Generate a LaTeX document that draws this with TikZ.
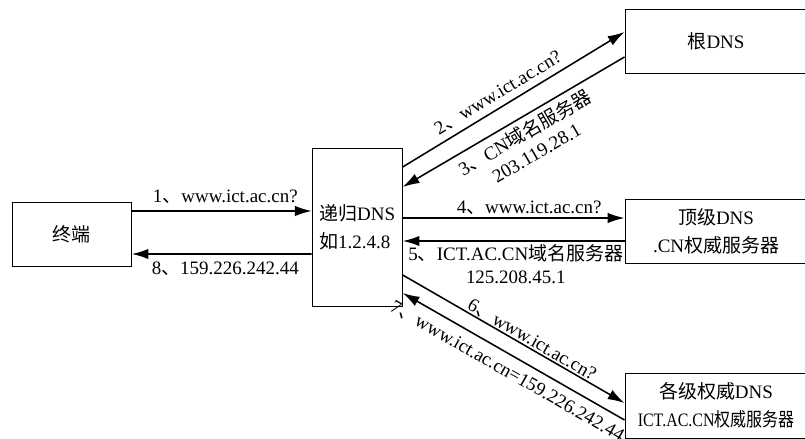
\documentclass[tikz,border=0pt]{standalone}
\usepackage{fontspec}
\usepackage{graphicx}
\setmainfont{Liberation Serif}
\newfontfamily\cjk{Noto Sans CJK SC}
\newcommand{\zh}[1]{{\cjk #1}}
\usetikzlibrary{arrows.meta}

\begin{document}
\begin{tikzpicture}[
    box/.style={
      rectangle, draw, align=center, line width=0.7pt,
      inner sep=2pt, font=\fontsize{13.5}{20}\selectfont
    },
    srv/.style={box, minimum width=4.55cm, minimum height=1.6cm},
    >={Latex[length=0.42cm,width=0.26cm]}, % arrowheads
    arrow/.style={->, line width=1.1pt},
    lbl/.style={font=\fontsize{13.5}{16.5}\selectfont, align=center, inner sep=2pt},
  ]
  \useasboundingbox (0,0) rectangle (20.125,-10.975);

  % Client and resolver
  \node[box, minimum width=2.98cm, minimum height=1.62cm] (term) at (1.79,-5.86) {\zh{终端}};
  \node[box, minimum width=2.25cm, minimum height=3.95cm, align=left] (rec) at (8.93,-5.68)
    {\zh{递归}DNS\\\zh{如}1.2.4.8};

  % Servers on the right (running off the page edge)
  \node[srv] (root) at (17.9,-1.03) {\zh{根}DNS};
  \node[srv] (top)  at (17.9,-5.78) {\zh{顶级}DNS\\.CN\zh{权威服务器}};
  \node[srv, minimum height=1.63cm] (auth) at (17.9,-10.14)
    {\zh{各级权威}DNS\\\scalebox{0.84}[1]{ICT.AC.CN\zh{权威服务器}}};

  % Client <-> resolver
  \draw[arrow] ([yshift=0.585cm]term.east) -- node[lbl, above=3pt, pos=0.52] {1\zh{、}www.ict.ac.cn?}
    ([yshift=0.405cm]rec.west);
  \draw[arrow] ([yshift=-0.67cm]rec.west) -- node[lbl, below=3pt, pos=0.48] {8\zh{、}159.226.242.44}
    ([yshift=-0.49cm]term.east);

  % Resolver <-> root
  \draw[arrow] ([yshift=1.505cm]rec.east) -- ([yshift=0.23cm]root.west);
  \draw[arrow] ([yshift=-0.395cm]root.west) -- ([yshift=1.005cm]rec.east);

  % Resolver <-> top level
  \draw[arrow] ([yshift=0.23cm]rec.east) -- node[lbl, above, pos=0.57] {4\zh{、}www.ict.ac.cn?}
    ([yshift=0.33cm]top.west);
  \draw[arrow] ([yshift=-0.245cm]top.west) -- node[lbl, below, pos=0.49]
    {5\zh{、}ICT.AC.CN\zh{域名服务器}\\125.208.45.1} ([yshift=-0.345cm]rec.east);

  % Resolver <-> authoritative
  \draw[arrow] ([yshift=-1.195cm]rec.east) -- ([yshift=0.065cm]auth.west);
  \draw[arrow] ([yshift=-0.36cm]auth.west) -- ([yshift=-1.645cm]rec.east);

  % Slanted labels along the diagonal arrows
  \node[lbl, rotate=31.2]  (q2) at (12.45,-2.325) {2\zh{、}www.ict.ac.cn?};
  \node[lbl, rotate=30.2]  (a3) at (13.25,-3.55)  {3\zh{、}CN\zh{域名服务器}\\203.119.28.1};
  \node[lbl, rotate=-29.9] (q6) at (13.3,-8.5)    {6\zh{、}www.ict.ac.cn?};
  \node[lbl, rotate=-29.7] (a7) at (12.68,-9.28)  {7\zh{、}www.ict.ac.cn=159.226.242.44};

\end{tikzpicture}
\end{document}
